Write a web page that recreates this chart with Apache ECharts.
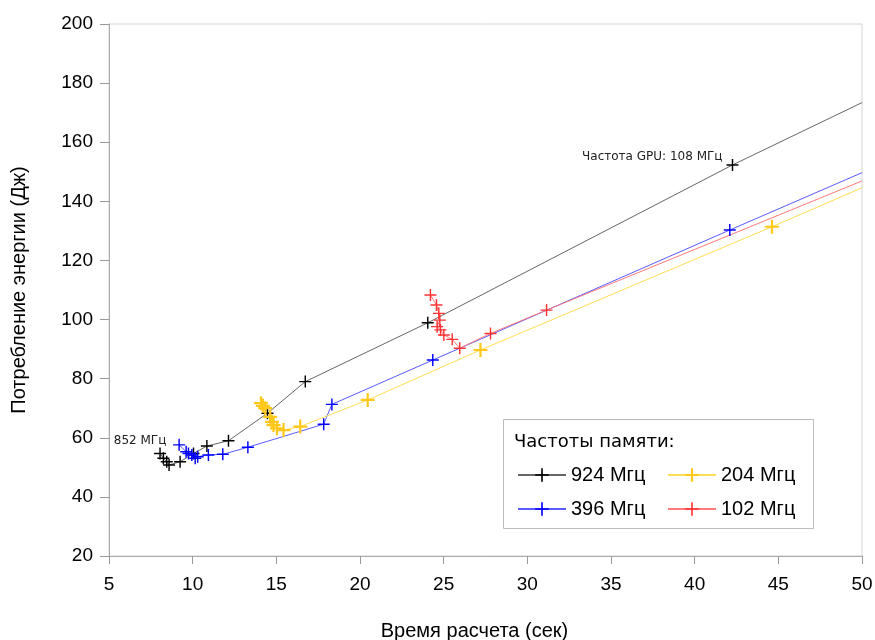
<!DOCTYPE html>
<html>
<head>
<meta charset="utf-8">
<script src="https://cdn.jsdelivr.net/npm/echarts@6/dist/echarts.min.js"></script>
<style>
html,body{margin:0;padding:0;background:#fff;}
#chart{width:875px;height:640px;}
</style>
</head>
<body>
<div id="chart"></div>
<script>
// Time (s), energy (J) for each memory frequency; points ordered by GPU frequency 852 -> 108 MHz.
// The final point of each series is where the line leaves the plot at x = 50 (drawn without marker).
const seriesNames = ['924 Мгц', '396 Мгц', '204 Мгц', '102 Мгц'];
const mem924 = [[8.05,54.7],[8.25,53.1],[8.45,51.9],[8.59,50.8],[9.25,51.9],[10.05,54.7],[10.85,57.2],[12.14,59.0],[14.47,68.3],[16.73,79.0],[24.05,98.9],[42.26,152.3],[50,173.4]];
const mem396 = [[9.19,57.6],[9.61,55.3],[9.75,54.7],[9.95,54.2],[10.15,53.1],[10.3,53.6],[10.94,54.2],[11.8,54.4],[13.3,56.8],[17.83,64.6],[18.32,71.3],[24.35,86.3],[42.1,130.3],[50,149.7]];
const mem204 = [[14.08,71.7],[14.2,70.8],[14.34,70.0],[14.63,67.1],[14.74,65.4],[14.83,64.3],[15.04,63.2],[15.43,62.6],[16.43,63.8],[20.46,72.8],[27.2,89.7],[44.62,131.4],[50,144.6]];
const mem102 = [[24.21,108.3],[24.57,104.9],[24.71,102.1],[24.77,99.8],[24.61,97.6],[24.81,96.5],[25.01,94.8],[25.51,93.3],[25.96,90.3],[27.8,95.3],[31.15,103.2],[50,146.9]];
const xTicks = {min: 5, max: 50, interval: 5};
const yTicks = {min: 20, max: 200, interval: 20};
const legendTitle = 'Частоты памяти:';
const firstLabel = '852 МГц';
const lastLabel = 'Частота GPU: 108 МГц';
const xName = 'Время расчета (сек)';
const yName = 'Потребление энергии (Дж)';

const PLUS = 'path://M4.4,0H5.6V4.4H10V5.6H5.6V10H4.4V5.6H0V4.4H4.4Z';
const PLUS_Y = 'path://M4.2,0H5.8V4.2H10V5.8H5.8V10H4.2V5.8H0V4.2H4.2Z';

function toData(arr) {
  return arr.map((p, i) => {
    const item = {value: p};
    if (i === arr.length - 1) item.symbol = 'none';
    return item;
  });
}

const blackData = toData(mem924);
const annFont = {fontFamily: 'DejaVu Sans', fontSize: 12, color: '#222'};
blackData[0].label = Object.assign({show: true, formatter: firstLabel, position: [-14, -7], align: 'center', verticalAlign: 'middle'}, annFont);
blackData[mem924.length - 2].label = Object.assign({show: true, formatter: lastLabel, position: [-4, -2], align: 'right', verticalAlign: 'middle'}, annFont);

function mkSeries(name, data, lineColor, markColor, sym, size) {
  return {
    name: name, type: 'line', data: data, symbol: sym, symbolSize: size,
    showAllSymbol: true, clip: true, animation: false,
    lineStyle: {color: lineColor, width: 1},
    itemStyle: {color: markColor},
    emphasis: {disabled: true}
  };
}

const chart = echarts.init(document.getElementById('chart'), null, {renderer: 'canvas'});
const legendText = {fontFamily: 'Liberation Sans', fontSize: 20, color: '#000'};
chart.setOption({
  backgroundColor: '#fff',
  animation: false,
  grid: {left: 109, right: 13, top: 24, bottom: 84, containLabel: false, outerBoundsMode: 'none', show: true, borderColor: '#d4d4d4', borderWidth: 1, backgroundColor: 'transparent'},
  xAxis: {
    type: 'value', min: xTicks.min, max: xTicks.max, interval: xTicks.interval,
    name: xName, nameLocation: 'middle', nameGap: 65,
    nameTextStyle: {fontFamily: 'Liberation Sans', fontSize: 20, color: '#000', padding: [0, 22, 0, 0]},
    axisLine: {show: true, onZero: false, lineStyle: {color: '#aaa', width: 1}},
    axisTick: {show: true, length: 8, lineStyle: {color: '#999'}},
    axisLabel: {fontFamily: 'Liberation Sans', fontSize: 19, color: '#000', margin: 19},
    splitLine: {show: false}
  },
  yAxis: {
    type: 'value', min: yTicks.min, max: yTicks.max, interval: yTicks.interval,
    name: yName, nameLocation: 'middle', nameGap: 80, nameRotate: 90,
    nameTextStyle: {fontFamily: 'Liberation Sans', fontSize: 20, color: '#000'},
    axisLine: {show: true, onZero: false, lineStyle: {color: '#aaa', width: 1}},
    axisTick: {show: true, length: 9, lineStyle: {color: '#999'}},
    axisLabel: {fontFamily: 'Liberation Sans', fontSize: 19, color: '#000', margin: 16},
    splitLine: {show: false}
  },
  graphic: [
    {type: 'rect', left: 503, top: 419, shape: {width: 310, height: 109}, style: {fill: '#fff', stroke: '#bbb', lineWidth: 1}, z: 50},
    {type: 'text', left: 514, top: 433, style: {text: legendTitle, font: '18px "DejaVu Sans"', fill: '#000'}, z: 51}
  ],
  legend: [
    {data: [seriesNames[0], seriesNames[1]], left: 517, top: 465, padding: 0, orient: 'vertical', itemWidth: 48, itemHeight: 17, itemGap: 14, textStyle: legendText, z: 60, selectedMode: false},
    {data: [seriesNames[2], seriesNames[3]], left: 667, top: 465, padding: 0, orient: 'vertical', itemWidth: 48, itemHeight: 17, itemGap: 14, textStyle: legendText, z: 60, selectedMode: false}
  ],
  series: [
    mkSeries(seriesNames[0], blackData, '#666', '#000', PLUS, 12),
    mkSeries(seriesNames[1], toData(mem396), '#5a5aff', '#0000ff', PLUS, 12),
    mkSeries(seriesNames[2], toData(mem204), '#ffdd55', '#ffc81a', PLUS_Y, 14),
    mkSeries(seriesNames[3], toData(mem102), '#ff7a7a', '#ff3333', PLUS, 12)
  ]
});
</script>
</body>
</html>
